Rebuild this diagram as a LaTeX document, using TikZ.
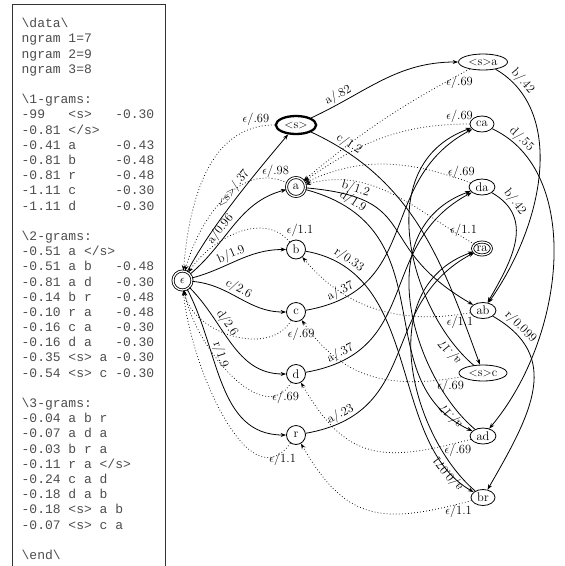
\documentclass[tikz,border=0pt]{standalone}
\usepackage{fontspec}
\newfontfamily\monof{Liberation Mono}
\usetikzlibrary{arrows.meta,shapes.geometric}
\tikzset{
  st/.style={circle,draw,line width=0.8pt,minimum size=19pt,inner sep=0pt},
  acc/.style={double,double distance=1.3pt},
  el/.style={ellipse,draw,line width=0.8pt,inner xsep=2.7pt,inner ysep=1pt,minimum height=16pt},
  tr/.style={->,line width=0.8pt},
  bo/.style={->,line width=0.75pt,dash pattern=on 0.75pt off 2.3pt},
  lab/.style={sloped,above,inner sep=1.2pt},
  labu/.style={lab,allow upside down},
  elab/.style={inner sep=1pt},
  mono/.style={anchor=base west,inner sep=0pt,text=black!70,font=\monof\fontsize{13}{15}\selectfont},
}
\begin{document}
\begin{tikzpicture}[x=1pt,y=1pt,font=\fontsize{12.5}{15}\selectfont,>={Stealth[length=5.5pt,width=4pt]}]
\useasboundingbox (0,0) rectangle (565,-566);
\clip (0,0) rectangle (565,-566);
\draw[line width=0.9pt,black!80] (12.7,-4) rectangle (165.7,-590);
\foreach \t [count=\i from 0] in {
 {\textbackslash data\textbackslash},
 {ngram~1=7},
 {ngram~2=9},
 {ngram~3=8},
 {},
 {\textbackslash 1-grams:},
 {-99~~~<s>~~~-0.30},
 {-0.81~</s>},
 {-0.41~a~~~~~-0.43},
 {-0.81~b~~~~~-0.48},
 {-0.81~r~~~~~-0.48},
 {-1.11~c~~~~~-0.30},
 {-1.11~d~~~~~-0.30},
 {},
 {\textbackslash 2-grams:},
 {-0.51~a~</s>},
 {-0.51~a~b~~~-0.48},
 {-0.81~a~d~~~-0.30},
 {-0.14~b~r~~~-0.48},
 {-0.10~r~a~~~-0.48},
 {-0.16~c~a~~~-0.30},
 {-0.16~d~a~~~-0.30},
 {-0.35~<s>~a~-0.30},
 {-0.54~<s>~c~-0.30},
 {},
 {\textbackslash 3-grams:},
 {-0.04~a~b~r},
 {-0.07~a~d~a},
 {-0.03~b~r~a},
 {-0.11~r~a~</s>},
 {-0.24~c~a~d},
 {-0.18~d~a~b},
 {-0.18~<s>~a~b},
 {-0.07~<s>~c~a},
 {},
 {\textbackslash end\textbackslash}}
 {\node[mono] (line\i) at (21.5,{-27.8-15.19*\i}) {\t};}

% states
\node[st,acc] (eps) at (182.5,-280.5) {$\epsilon$};
\node[el,line width=2.3pt,minimum height=18pt] (S) at (296,-125) {$<$s$>$};
\node[st,acc] (a) at (296,-187) {a};
\node[st] (b) at (296,-249.5) {b};
\node[st] (c) at (296,-312) {c};
\node[st] (d) at (296,-374) {d};
\node[st] (r) at (296,-435) {r};
\node[el] (Sa) at (483,-62) {$<$s$>$a};
\node[el] (ca) at (482,-124) {ca};
\node[el] (da) at (482,-187) {da};
\node[el,acc,minimum height=13pt,inner xsep=1.2pt] (ra) at (482,-248.5) {ra};
\node[el] (ab) at (483,-310.5) {ab};
\node[el] (Sc) at (483,-373) {$<$s$>$c};
\node[el] (ad) at (483,-436) {ad};
\node[el] (br) at (483,-497.5) {br};

% unigram arcs
\draw[tr] (eps) to[out=62,in=-130,looseness=0.8] node[lab,pos=.55] {$<$s$>$/.37} (S);
\draw[tr] (eps) to[out=40,in=195] node[lab,pos=.4] {a/0.96} (a);
\draw[tr] (eps) to[out=15,in=180] node[lab,pos=.45] {b/1.9} (b);
\draw[tr] (eps) to[out=-5,in=180] node[lab,pos=.45] {c/2.6} (c);
\draw[tr] (eps) to[out=-45,in=180] node[lab,pos=.35] {d/2.6} (d);
\draw[tr] (eps) to[out=-62,in=180] node[lab,pos=.35] {r/1.9} (r);

% backoff to eps
\draw[bo] (S) to[out=180,in=85] node[elab,pos=.1,above] {$\epsilon$/.69} (eps);
\draw[bo] (a) to[out=155,in=75] node[elab,pos=.08,above] {$\epsilon$/.98} (eps);
\draw[bo] (b) to[out=130,in=55] node[elab,pos=.05,above right] {$\epsilon$/1.1} (eps);
\draw[bo] (c) to[out=-120,in=-80] node[elab,pos=.06,below right] {$\epsilon$/.69} (eps);
\draw[bo] (d) to[out=-120,in=-80] node[elab,pos=.06,below] {$\epsilon$/.69} (eps);
\draw[bo] (r) to[out=-125,in=-85] node[elab,pos=.06,below] {$\epsilon$/1.1} (eps);

% bigram arcs
\draw[tr] (S) to[out=25,in=180] node[lab,pos=.2] {a/.82} (Sa);
\draw[tr] (S) to[out=-25,in=110] node[lab,pos=.12] {c/1.2} (Sc);
\draw[tr] (a) to[out=-5,in=150,looseness=1.5] node[lab,pos=.17] {b/1.2} (ab);
\draw[tr] (a) to[out=-15,out distance=150,in=155,in distance=120] node[lab,pos=.12] {d/1.9} (ad);
\draw[tr] (b) to[out=-10,out distance=120,in=150,in distance=100] node[lab,pos=.13] {r/0.33} (br);
\draw[tr] (c) to[out=10,out distance=120,in=208,in distance=110] node[lab,pos=.13] {a/.37} (ca);
\draw[tr] (d) to[out=10,out distance=120,in=208,in distance=110] node[lab,pos=.13] {a/.37} (da);
\draw[tr] (r) to[out=10,out distance=120,in=208,in distance=110] node[lab,pos=.13] {a/.23} (ra);

% trigram arcs
\draw[tr] (Sa) to[out=-30,out distance=80,in=55,in distance=100] node[lab,pos=.12] {b/.42} (ab);
\draw[tr] (ca) to[out=-25,out distance=100,in=50,in distance=120] node[lab,pos=.1] {d/.55} (ad);
\draw[tr] (da) to[out=-30,out distance=50,in=60,in distance=50] node[lab,pos=.17] {b/.42} (ab);
\draw[tr] (ab) to[out=-30,out distance=80,in=60,in distance=90] node[lab,pos=.13] {r/0.099} (br);
\draw[tr] (Sc) to[out=140,out distance=80,in=200,in distance=110] node[labu,pos=.1] {a/.17} (ca);
\draw[tr] (ad) to[out=140,out distance=80,in=200,in distance=110] node[labu,pos=.1] {a/.17} (da);
\draw[tr] (br) to[out=140,out distance=80,in=200,in distance=110] node[labu,pos=.12] {a/0.071} (ra);

% backoff to unigram states
\draw[bo] (Sa) to[out=208,in=40] node[elab,pos=.05,below] {$\epsilon$/.69} (a);
\draw[bo] (ca) to[out=180,in=35] node[elab,pos=.05,above] {$\epsilon$/.69} (a);
\draw[bo] (da) to[out=160,in=25] node[elab,pos=.05,above] {$\epsilon$/.69} (a);
\draw[bo] (ra) to[out=150,in=15] node[elab,pos=.06,above] {$\epsilon$/1.1} (a);
\draw[bo] (ab) to[out=190,in=-50] node[elab,pos=.05,below] {$\epsilon$/1.1} (b);
\draw[bo] (Sc) to[out=190,in=-55,looseness=1.1] node[elab,pos=.05,below] {$\epsilon$/.69} (c);
\draw[bo] (ad) to[out=195,in=-60,looseness=1.3] node[elab,pos=.05,below] {$\epsilon$/.69} (d);
\draw[bo] (br) to[out=195,in=-60,looseness=1.3] node[elab,pos=.05,below] {$\epsilon$/1.1} (r);
\end{tikzpicture}
\end{document}
